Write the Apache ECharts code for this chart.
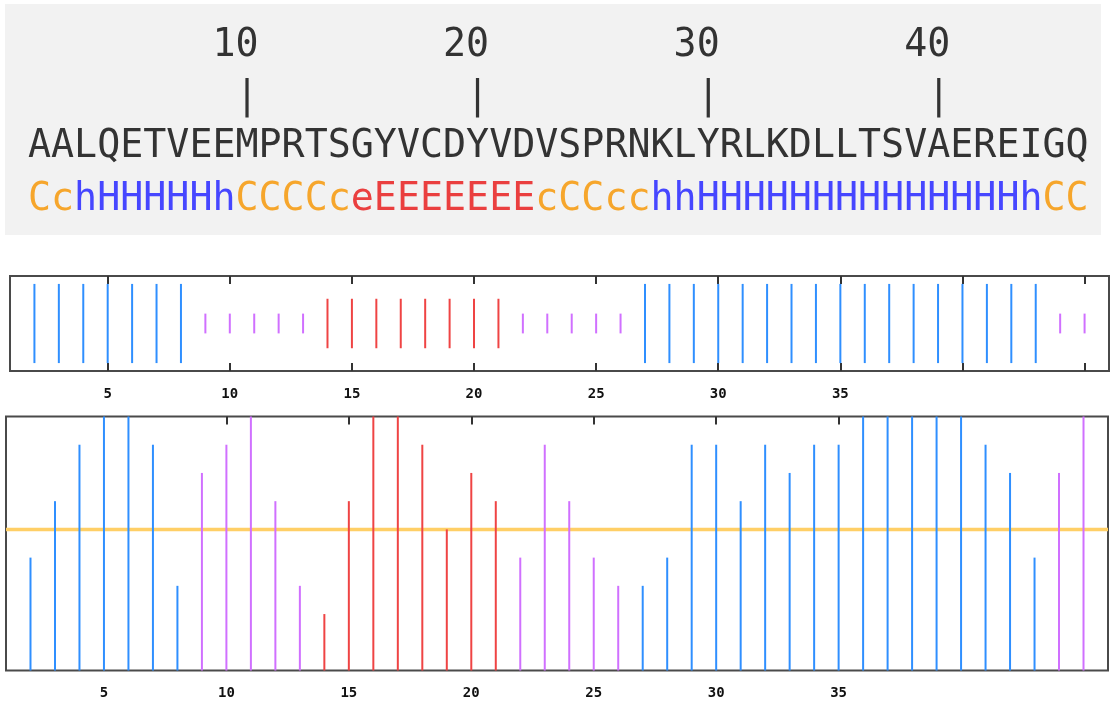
<!DOCTYPE html>
<html><head><meta charset="utf-8">
<script src="https://cdn.jsdelivr.net/npm/echarts@6/dist/echarts.min.js"></script>
<style>html,body{margin:0;padding:0;background:#fff}#c{width:1114px;height:713px}</style>
</head><body><div id="c"></div>
<script>
// ---- data ----
const sequence = "AALQETVEEMPRTSGYVCDYVDVSPRNKLYRLKDLLTSVAEREIGQ";
const ssString = "CchHHHHHhCCCCceEEEEEEEcCCcchhHHHHHHHHHHHHHHhCC";
const rulerMarks = [10, 20, 30, 40];
const firstPos = 2;           // first plotted position
const lastPos = 45;           // last plotted position
const confidence = [4,6,8,9,9,8,3, 7,8,9,6,3, 2,6,9,9,8,5,7,6, 4,8,6,4,3,
                    3,4,8,8,6,8,7,8,8,9,9,9,9,9,8,7,4, 7,9];
const threshold = 5;
const tickValues = [5,10,15,20,25,30,35,40,45];
const confTopTicks = [10,15,20,25,30,35];
const tickLabels = [5,10,15,20,25,30,35];

// ---- encodings ----
const classOf = ch => ('Hh'.includes(ch) ? 0 : 'Ee'.includes(ch) ? 1 : 2);
const classColor = ['#2f8fff', '#ef4444', '#d070ff'];
const stripHalf = [1, 0.625, 0.25];

const stripData = [];
const confData = [];
for (let x = firstPos; x <= lastPos; x++) {
  const c = classOf(ssString[x]);
  stripData.push([x, stripHalf[c], c]);
  confData.push([x, confidence[x - firstPos], c]);
}

// ruler text lines
const L = sequence.length;
const numArr = new Array(L).fill(' ');
const barArr = new Array(L).fill(' ');
rulerMarks.forEach(m => {
  const s = String(m);
  for (let k = 0; k < s.length; k++) numArr[m - s.length + k] = s[k];
  barArr[m - 1] = '|';
});
const numLine = numArr.join('').replace(/\s+$/, '');
const barLine = barArr.join('').replace(/\s+$/, '');

// rich ss text
const richKey = ['H', 'E', 'C'];
let ssRich = '';
let run = '', runCls = -1;
for (const ch of ssString) {
  const c = classOf(ch);
  if (c !== runCls && run) { ssRich += '{' + richKey[runCls] + '|' + run + '}'; run = ''; }
  runCls = c; run += ch;
}
if (run) ssRich += '{' + richKey[runCls] + '|' + run + '}';

const FS = 38.3;
const MONO = '"DejaVu Sans Mono", monospace';
const richStyle = col => ({ fill: col, fontSize: FS, fontFamily: MONO, lineHeight: FS });

const chart = echarts.init(document.getElementById('c'), null, { renderer: 'canvas' });

const lineRender = (params, api) => {
  const x = api.value(0), v = api.value(1), c = api.value(2);
  const stripMode = params.seriesIndex === 0;
  const p1 = api.coord([x, v]);
  const p2 = api.coord([x, stripMode ? -v : 0]);
  return { type: 'line', shape: { x1: p1[0], y1: p1[1], x2: p2[0], y2: p2[1] },
           style: { stroke: classColor[c], lineWidth: 2 } };
};

const xBase = (gridIndex, position, showLabel, margin, ticks) => ({
  type: 'value', gridIndex, position, min: 1, max: 46,
  axisLine: { show: false, onZero: false }, splitLine: { show: false },
  axisTick: { show: ticks.length > 0, inside: true, length: 8, customValues: ticks.length ? ticks : undefined,
              lineStyle: { color: '#333', width: 2 } },
  axisLabel: { show: showLabel, customValues: tickLabels, margin,
               fontFamily: MONO, fontWeight: 'bold', fontSize: 14, color: '#111' }
});

chart.setOption({
  animation: false,
  backgroundColor: '#fff',
  grid: [
    { left: 10, top: 276, width: 1099, height: 95, show: true, borderColor: '#4a4a4a', borderWidth: 2, backgroundColor: 'transparent', outerBoundsMode: 'none' },
    { left: 6, top: 416.5, width: 1102, height: 254, show: true, borderColor: '#4a4a4a', borderWidth: 2, backgroundColor: 'transparent', outerBoundsMode: 'none' }
  ],
  xAxis: [
    xBase(0, 'bottom', true, 16, tickValues),
    xBase(0, 'top', false, 8, tickValues),
    xBase(1, 'bottom', true, 16, []),
    xBase(1, 'top', false, 8, confTopTicks)
  ],
  yAxis: [
    { type: 'value', gridIndex: 0, min: -1.2, max: 1.2, show: false },
    { type: 'value', gridIndex: 1, min: 0, max: 9, show: false }
  ],
  graphic: { elements: [
    { type: 'rect', silent: true, z: -10, shape: { x: 5, y: 4, width: 1096, height: 231 }, style: { fill: '#f2f2f2' } },
    { type: 'text', silent: true, x: 28, y: 46, style: { text: numLine, fontSize: FS, fontFamily: MONO, fill: '#333', verticalAlign: 'middle', align: 'left' } },
    { type: 'text', silent: true, x: 28, y: 98, style: { text: barLine, fontSize: FS, fontFamily: MONO, fill: '#333', verticalAlign: 'middle', align: 'left' } },
    { type: 'text', silent: true, x: 28, y: 147, style: { text: sequence, fontSize: FS, fontFamily: MONO, fill: '#333', verticalAlign: 'middle', align: 'left' } },
    { type: 'text', silent: true, x: 28, y: 200, style: { text: ssRich, fontSize: FS, fontFamily: MONO, verticalAlign: 'middle', align: 'left',
        rich: { H: richStyle('#4646ff'), E: richStyle('#ea3f3f'), C: richStyle('#f6a62c') } } }
  ] },
  series: [
    { type: 'custom', xAxisIndex: 0, yAxisIndex: 0, data: stripData, renderItem: lineRender, z: 3 },
    { type: 'custom', xAxisIndex: 2, yAxisIndex: 1, data: confData, renderItem: lineRender, z: 3 },
    { type: 'line', xAxisIndex: 2, yAxisIndex: 1, data: [[1, threshold], [46, threshold]], symbol: 'none',
      lineStyle: { color: '#ffcf66', width: 3.5 }, z: 2, silent: true }
  ]
});
</script></body></html>
